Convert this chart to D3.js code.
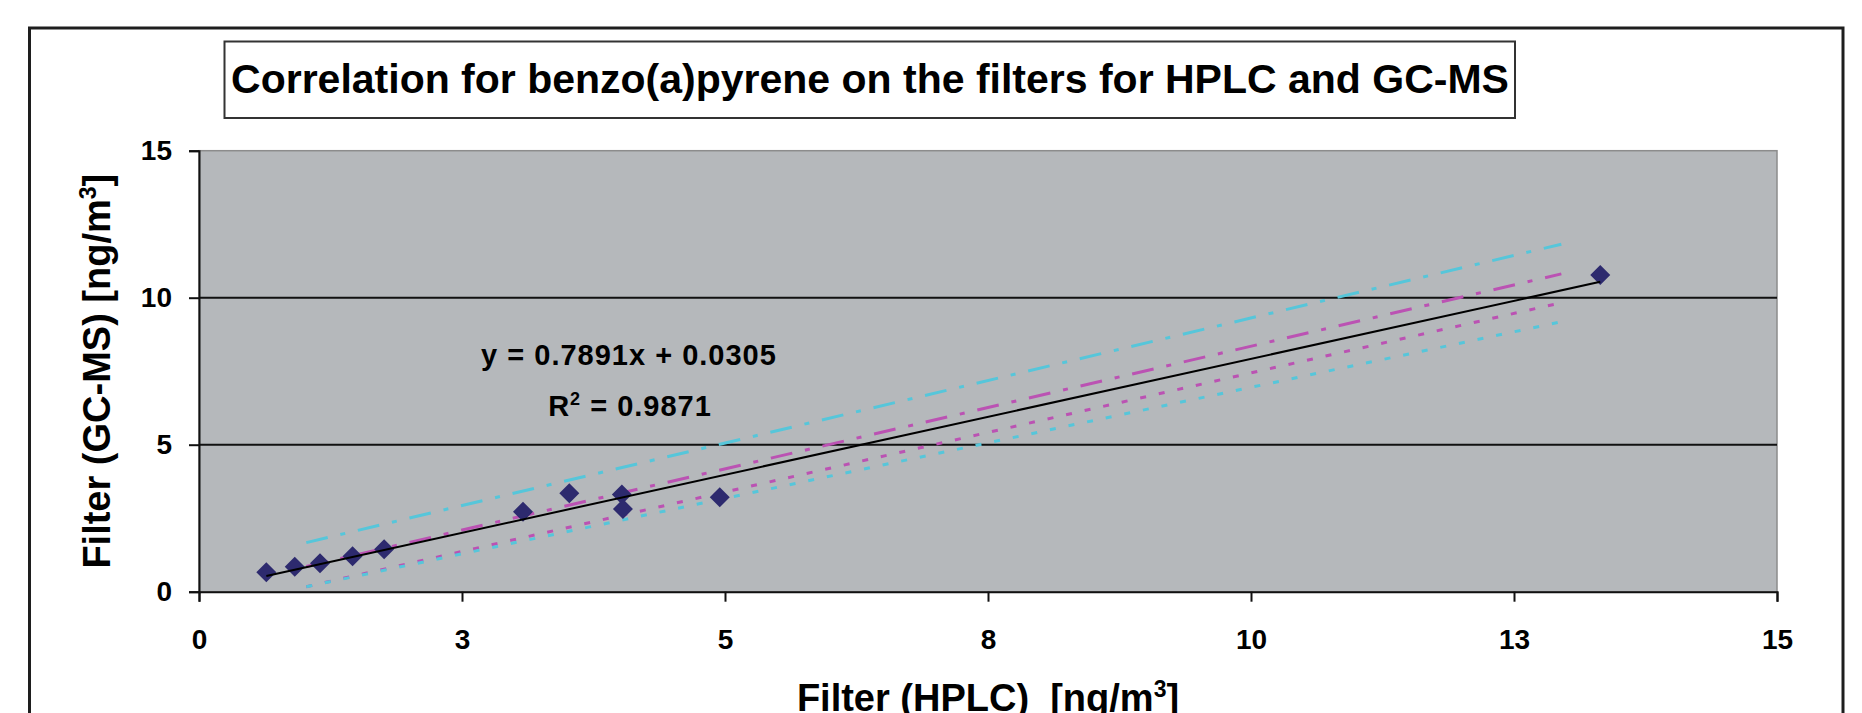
<!DOCTYPE html>
<html>
<head>
<meta charset="utf-8">
<script src="https://cdn.jsdelivr.net/npm/d3@7"></script>
<style>
  body { margin: 0; background: #fff; }
  text { font-family: Arial, "Liberation Sans", sans-serif; }
</style>
</head>
<body>
<div id="chart"></div>
<script>
const width = 1862;
const height = 713;

// filter samples, HPLC (x) vs GC-MS (y), ng/m3
const hplc = [0.64, 0.91, 1.15, 1.46, 1.76, 3.08, 3.52, 4.02, 4.03, 4.95, 13.32];
const gcms = [0.66, 0.85, 0.97, 1.21, 1.44, 2.72, 3.35, 3.31, 2.81, 3.21, 10.77];

const xTicks = [0, 2.5, 5, 7.5, 10, 12.5, 15];
const yTicks = [0, 5, 10, 15];
const yGrid = [5, 10];

// trend line as printed on the chart
const trendSlope = 0.7891;
const trendIntercept = 0.0305;
const trendText = 'y = 0.7891x + 0.0305';
const r2Text = ' = 0.9871';

// band lines: x of start / end, and y at those x
const bandX = [1.02, 12.95];
const cyanUpper = [1.67, 11.82];
const magentaUpper = [0.86, 10.81];
const magentaLower = [0.17, 9.83];
const cyanLower = [0.17, 9.18];

const colorPlot = '#b5b8bb';
const colorCyan = '#56c6da';
const colorMagenta = '#bb52b3';
const colorMarker = '#2d2a6e';

const plot = { left: 199, right: 1777, top: 150.7, bottom: 591.7 };

const svg = d3.select('#chart')
    .append('svg')
    .attr('width', width)
    .attr('height', height);

// outer chart frame
svg.append('rect')
    .attr('x', 29.5)
    .attr('y', 28)
    .attr('width', 1813.5)
    .attr('height', 760)
    .attr('fill', '#fff')
    .attr('stroke', '#1e1e1e')
    .attr('stroke-width', 3);

// title box
svg.append('rect')
    .attr('x', 224.5)
    .attr('y', 41.5)
    .attr('width', 1290.5)
    .attr('height', 76.5)
    .attr('fill', '#fff')
    .attr('stroke', '#333')
    .attr('stroke-width', 2);

svg.append('text')
    .attr('x', 870)
    .attr('y', 93)
    .attr('text-anchor', 'middle')
    .style('font-size', '41px')
    .style('font-weight', 'bold')
    .text('Correlation for benzo(a)pyrene on the filters for HPLC and GC-MS');

const x = d3.scaleLinear().domain([0, 15]).range([plot.left, plot.right]);
const y = d3.scaleLinear().domain([0, 15]).range([plot.bottom, plot.top]);

// plot area
svg.append('rect')
    .attr('x', plot.left)
    .attr('y', plot.top)
    .attr('width', plot.right - plot.left)
    .attr('height', plot.bottom - plot.top)
    .attr('fill', colorPlot)
    .attr('stroke', '#8c8c8c')
    .attr('stroke-width', 1.5);

svg.append('g')
    .selectAll('line')
    .data(yGrid)
    .enter()
    .append('line')
    .attr('x1', plot.left)
    .attr('x2', plot.right)
    .attr('y1', d => y(d))
    .attr('y2', d => y(d))
    .attr('stroke', '#111')
    .attr('stroke-width', 2);

// axes
const xAxis = svg.append('g')
    .attr('transform', 'translate(0,' + plot.bottom + ')')
    .call(d3.axisBottom(x)
        .tickValues(xTicks)
        .tickFormat(d => Math.round(d))
        .tickSizeOuter(0)
        .tickSize(10)
        .tickPadding(27));

const yAxis = svg.append('g')
    .attr('transform', 'translate(' + plot.left + ',0)')
    .call(d3.axisLeft(y)
        .tickValues(yTicks)
        .tickSizeOuter(0)
        .tickSize(10)
        .tickPadding(17));

[xAxis, yAxis].forEach(g => {
    g.select('.domain').attr('stroke', '#111').attr('stroke-width', 2);
    g.selectAll('.tick line').attr('stroke', '#111').attr('stroke-width', 2);
    g.selectAll('.tick text')
        .attr('fill', '#000')
        .style('font-size', '28px')
        .style('font-weight', 'bold')
        .style('font-family', 'Arial, "Liberation Sans", sans-serif');
});

// band lines
const bandLine = d3.line()
    .x(d => x(d[0]))
    .y(d => y(d[1]));

const bands = [
    { values: cyanUpper, color: colorCyan, dash: '22,13,5,13' },
    { values: magentaUpper, color: colorMagenta, dash: '22,13,5,13' },
    { values: magentaLower, color: colorMagenta, dash: '6,13' },
    { values: cyanLower, color: colorCyan, dash: '6,13' },
];

svg.append('g')
    .selectAll('path')
    .data(bands)
    .enter()
    .append('path')
    .attr('d', d => bandLine(bandX.map((bx, i) => [bx, d.values[i]])))
    .attr('fill', 'none')
    .attr('stroke', d => d.color)
    .attr('stroke-width', 3)
    .attr('stroke-dasharray', d => d.dash);

// data points
svg.append('g')
    .selectAll('path')
    .data(hplc)
    .enter()
    .append('path')
    .attr('d', d3.symbol(d3.symbolSquare, 200))
    .attr('transform', (d, i) => 'translate(' + x(d) + ',' + y(gcms[i]) + ') rotate(45)')
    .attr('fill', colorMarker);

// trend line over the data range
const xMin = d3.min(hplc);
const xMax = d3.max(hplc);
svg.append('line')
    .attr('x1', x(xMin))
    .attr('y1', y(trendSlope * xMin + trendIntercept))
    .attr('x2', x(xMax))
    .attr('y2', y(trendSlope * xMax + trendIntercept))
    .attr('stroke', '#000')
    .attr('stroke-width', 2);

// equation label
svg.append('text')
    .attr('x', 629)
    .attr('y', 365)
    .attr('text-anchor', 'middle')
    .style('font-size', '29px')
    .style('font-weight', 'bold')
    .style('letter-spacing', '1px')
    .text(trendText);

const r2 = svg.append('text')
    .attr('x', 630)
    .attr('y', 416)
    .attr('text-anchor', 'middle')
    .style('font-size', '29px')
    .style('font-weight', 'bold')
    .style('letter-spacing', '1px');
r2.append('tspan').text('R');
r2.append('tspan').attr('dy', -11).style('font-size', '18px').text('2');
r2.append('tspan').attr('dy', 11).text(r2Text);

// axis titles
const yTitle = svg.append('text')
    .attr('transform', 'translate(110,' + ((plot.top + plot.bottom) / 2) + ') rotate(-90)')
    .attr('text-anchor', 'middle')
    .style('font-size', '38px')
    .style('font-weight', 'bold');
yTitle.append('tspan').text('Filter (GC-MS) [ng/m');
yTitle.append('tspan').attr('dy', -14).style('font-size', '23px').text('3');
yTitle.append('tspan').attr('dy', 14).text(']');

const xTitle = svg.append('text')
    .attr('x', (plot.left + plot.right) / 2)
    .attr('y', 711)
    .attr('text-anchor', 'middle')
    .style('font-size', '38px')
    .style('font-weight', 'bold')
    .attr('xml:space', 'preserve')
    .style('white-space', 'pre');
xTitle.append('tspan').text('Filter (HPLC)  [ng/m');
xTitle.append('tspan').attr('dy', -14).style('font-size', '23px').text('3');
xTitle.append('tspan').attr('dy', 14).text(']');
</script>
</body>
</html>
